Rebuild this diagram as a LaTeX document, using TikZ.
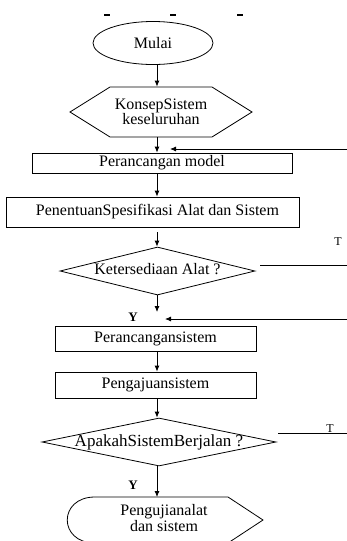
\documentclass[tikz,border=0pt]{standalone}
\usepackage{fontspec}
\setmainfont{Liberation Serif}
\usetikzlibrary{shapes.geometric,shapes.symbols,arrows.meta}

\begin{document}
\begin{tikzpicture}[x=1pt, y=-1pt,
        every node/.style={font=\fontsize{16}{14}\selectfont},
        proses/.style={draw, line width=0.8pt, inner sep=0pt},
        label/.style={font=\fontsize{12}{12}\selectfont, inner sep=0pt},
        arr/.style={-{Latex[length=6pt,width=5pt]}, line width=0.8pt},
        garis/.style={line width=0.8pt}]
    \useasboundingbox (0,0) rectangle (347,541);
    \coordinate (kol) at (157,0);

    \foreach \x in {107,173,240}
        \draw[line width=1.2pt] (\x-3,15) -- (\x+3,15);

    \node[proses, ellipse, minimum width=120pt, minimum height=43pt] (mulai) at (153,43) {Mulai};
    \node[proses, signal, signal to=east and west, signal pointer angle=64,
          minimum width=182pt, minimum height=50pt, align=center] (konsep) at (161,112) {KonsepSistem\\keseluruhan};
    \node[proses, minimum width=260pt, minimum height=20pt] (model) at (162,163) {Perancangan model};
    \node[proses, minimum width=293pt, minimum height=30pt] (spek) at (152.5,212) {\hspace{10pt}PenentuanSpesifikasi Alat dan Sistem};
    \node[proses, diamond, aspect=4, inner xsep=-12pt, minimum width=195pt, minimum height=48pt] (alat) at (157.5,271) {\raisebox{4pt}{Ketersediaan Alat ?}};
    \node[proses, minimum width=201pt, minimum height=25pt] (rancang) at (155.5,338.5) {Perancangansistem};
    \node[proses, minimum width=201pt, minimum height=26pt] (aju) at (155.5,385) {Pengajuansistem};
    \node[proses, diamond, aspect=4.875, inner xsep=-20pt, minimum width=234pt, minimum height=48pt,
          font=\fontsize{17}{14}\selectfont] (jalan) at (159,442) {\raisebox{3pt}{ApakahSistemBerjalan ?}};
    \node[align=center] (uji) at (164,518) {Pengujianalat\\dan sistem};
    \draw[garis] (95,497) -- (228,497) -- (263,520) -- (228,543) -- (95,543)
        .. controls (58,543) and (58,497) .. (95,497);
    \coordinate (ujiatas) at (157,497);

    \node[label] (ta) at (338,242) {T};
    \node[label] (tb) at (330,429) {T};
    \node[label, font=\fontsize{13}{13}\bfseries] (ya) at (133,317) {Y};
    \node[label, font=\fontsize{13}{13}\bfseries] (yb) at (133,485) {Y};

    \coordinate (ya1) at (157,312);
    \coordinate (balik1) at (347,149);
    \coordinate (ujung1) at (170,149);
    \coordinate (balik2) at (347,319);
    \coordinate (ujung2) at (165,319);
    \coordinate (t1a) at (260,265);
    \coordinate (t1b) at (347,265);
    \coordinate (t2a) at (278,433);
    \coordinate (t2b) at (347,433);

    \draw[arr] (mulai.south -| kol) -- (konsep.north -| kol);
    \draw[arr] (konsep.south -| kol) -- (model.north -| kol);
    \draw[arr] (model.south -| kol) -- (spek.north -| kol);
    \draw[arr] ([yshift=-5pt]spek.south -| kol) -- (alat.north -| kol);
    \draw[arr] (alat.south -| kol) -- (ya1);
    \draw[arr] (rancang.south -| kol) -- (aju.north -| kol);
    \draw[arr] (aju.south -| kol) -- (jalan.north -| kol);
    \draw[arr] (jalan.south -| kol) -- (ujiatas);
    \draw[arr] (balik1) -- (ujung1);
    \draw[arr] (balik2) -- (ujung2);
    \draw[garis] (t1a) -- (t1b);
    \draw[garis] (t2a) -- (t2b);
\end{tikzpicture}
\end{document}
